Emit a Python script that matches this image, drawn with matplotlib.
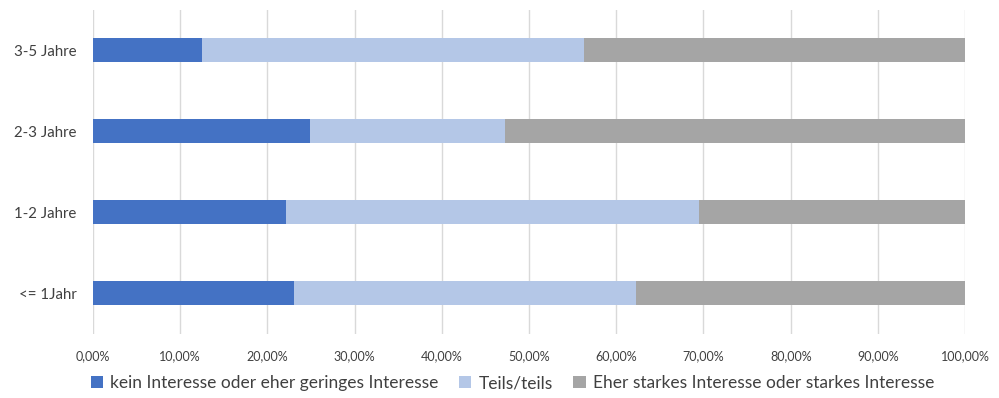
import matplotlib.pyplot as plt
from matplotlib.ticker import FuncFormatter

plt.rcParams['font.family'] = ['Lato', 'DejaVu Sans']

# data (percent)
groups = ["<= 1Jahr", "1-2 Jahre", "2-3 Jahre", "3-5 Jahre"]
kein = [23.0, 22.1, 24.9, 12.5]
teils = [39.3, 47.4, 22.3, 43.8]
stark = [37.7, 30.5, 52.8, 43.7]
series_names = ["kein Interesse oder eher geringes Interesse", "Teils/teils",
                "Eher starkes Interesse oder starkes Interesse"]
colors = ["#4472C4", "#B4C7E7", "#A5A5A5"]

fig = plt.figure(figsize=(9.99, 3.98), dpi=100)
ax = fig.add_axes([0.0931, 0.162, 0.873, 0.814])

# stacked horizontal bars
left = [0] * len(groups)
for vals, name, col in zip([kein, teils, stark], series_names, colors):
    ax.barh(groups, vals, left=left, height=0.3, color=col, label=name, zorder=3)
    left = [a + b for a, b in zip(left, vals)]

ax.set_xlim(0, 100)
ax.set_ylim(-0.5, len(groups) - 0.5)
ax.set_xticks(range(0, 101, 10))
ax.xaxis.set_major_formatter(FuncFormatter(lambda v, p: f"{v:.2f}%".replace(".", ",")))
ax.grid(axis="x", color="#D9D9D9", linewidth=1, zorder=0)
for s in ax.spines.values():
    s.set_visible(False)
ax.tick_params(axis="both", length=0, labelsize=9, colors="#404040")
ax.tick_params(axis="x", pad=12)
ax.tick_params(axis="y", pad=12, labelsize=10.8)

fig.legend(loc="lower center", bbox_to_anchor=(0.513, -0.022), ncol=3, frameon=False,
           fontsize=12.5, handlelength=0.7, handleheight=0.7, handletextpad=0.4,
           columnspacing=1.2, labelcolor="#404040")

fig.savefig("out.png", dpi=100)
